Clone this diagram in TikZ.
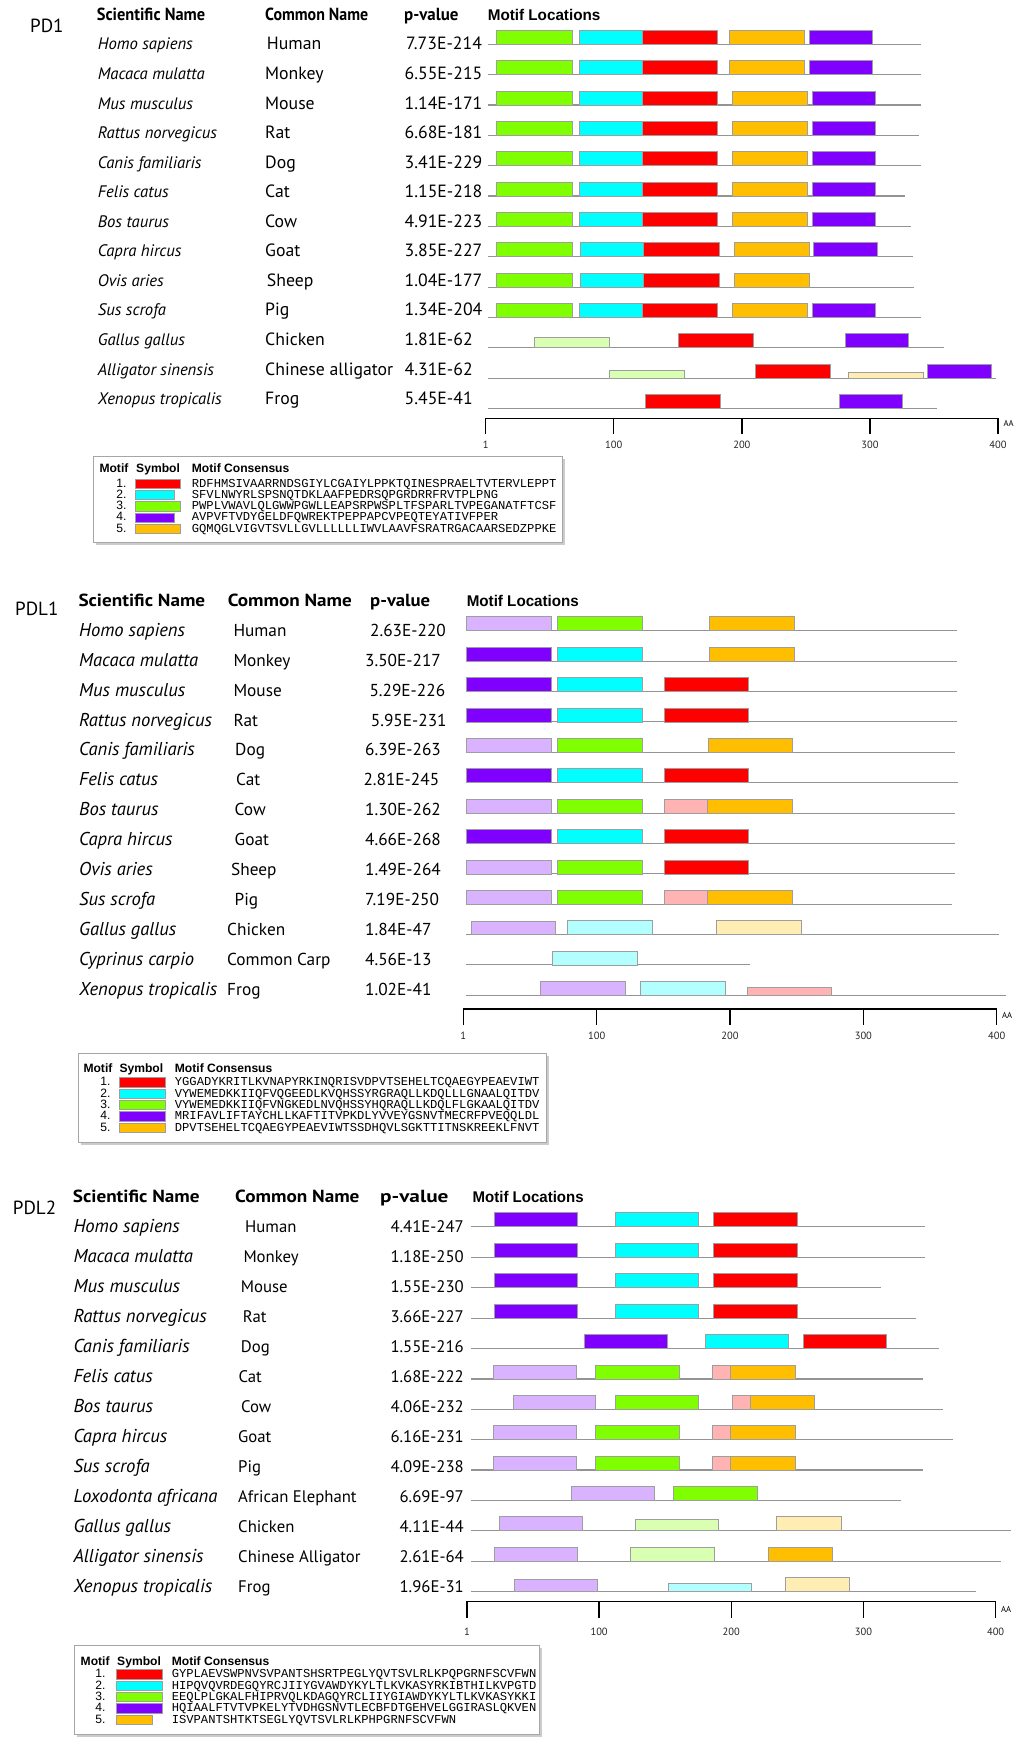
\documentclass[tikz,border=0pt]{standalone}
\usepackage{fontspec}
\usepackage{graphicx}
\setmainfont{PT Sans}
\newfontfamily\arialf{Liberation Sans}
\newfontfamily\monof{Liberation Mono}
\definecolor{mR}{HTML}{FF0000}
\definecolor{mC}{HTML}{00FFFF}
\definecolor{mG}{HTML}{80FF00}
\definecolor{mP}{HTML}{8000FF}
\definecolor{mO}{HTML}{FFBF00}
\definecolor{lP}{HTML}{D9B3FF}
\definecolor{lC}{HTML}{B3FFFF}
\definecolor{lG}{HTML}{D9FFB3}
\definecolor{lY}{HTML}{FFEDB3}
\definecolor{pK}{HTML}{FFB3B3}
\newlength\tmpw
\newcommand\calib[4]{\setbox0=\hbox{\normalfont\fontsize{10pt}{12pt}\selectfont#2#3}\tmpw=\wd0\relax\pgfmathsetmacro#1{10*#4/\tmpw}}
\newcommand\seqline[3]{\def\ly{#1}\draw[rl] (#2,#1) -- (#3,#1);}
\newcommand\motifbar[4]{\draw[bx,fill=#3] (#1,\ly-#4) rectangle (#2,\ly);}
\newcommand\txtrow[5]{%
  \node[tx,font=\scif] (s#5) at (\xSci,\tb+#1*\tp) {#2};
  \node[tx,font=\txf] (c#5) at (\xCom,\tb+#1*\tp) {#3};
  \node[tx,pstyle,font=\txf] (p#5) at (\xPv,\tb+#1*\tp) {#4};}
\newcommand\drawaxis[5]{%
  \draw[axl] (#2,#1+16) -- (#2,#1) -- (#3,#1) -- (#3,#1+16);
  \foreach \k/\lab in {0/1,1/100,2/200,3/300,4/400}{%
    \draw[axl] ({#2+\k*(#3-#2)/4},#1) -- ({#2+\k*(#3-#2)/4},#1+16);
    \node[tl] (t#5\k) at ({#2+\k*(#3-#2)/4},#4) {\lab};}}
\newcommand\legbox[4]{\fill[black!20] (#1+2.5,#2+2.5) rectangle (#3+2.5,#4+2.5);
  \draw[lgb] (#1,#2) rectangle (#3,#4);}
\newcommand\legrow[9]{%
  \node[tx,anchor=base east,font=\lnf] (ln#9) at (#1,#5) {#7.};
  \draw[bx,fill=#6] (#2,#5-8) rectangle (#3,#5+1.3);
  \node[tx,font=\sqf] (lq#9) at (#4,#5) {#8};}
\begin{document}
\calib\sciA{\itshape}{Rattus norvegicus}{119}%
\calib\txA{}{7.73E-214}{75.7}%
\calib\sciB{\itshape}{Rattus norvegicus}{132.7}%
\calib\txB{}{6.39E-263}{75.7}%
\calib\sciC{\itshape}{Rattus norvegicus}{133.3}%
\calib\txC{}{1.68E-222}{73.3}%
\begin{tikzpicture}[x=1pt,y=-1pt,
  bx/.style={draw=black!38,line width=0.7pt},
  rl/.style={draw=black!42,line width=1.1pt},
  axl/.style={draw=black,line width=1.3pt,line join=miter},
  tx/.style={inner sep=0pt,anchor=base west},
  tl/.style={inner sep=0pt,anchor=base,font=\fontsize{10.5}{12}\selectfont,text=black!85},
  lgb/.style={fill=white,draw=black!35,line width=0.9pt},
  pstyle/.style={anchor=base west}]
\def\hdf{\fontsize{17.5}{20}\selectfont\bfseries}
\def\mlf{\fontsize{15.5}{18}\selectfont\arialf\bfseries}
\def\pnf{\fontsize{19}{22}\selectfont}
\def\aaf{\fontsize{8.6}{10}\selectfont}
\def\lhf{\fontsize{12.1}{14}\selectfont\arialf\bfseries}
\def\lnf{\fontsize{12.1}{14}\selectfont\arialf}
\def\sqf{\fontsize{12.15}{14}\selectfont\monof}
\fill[white] (0,0) rectangle (1020,1742);
\useasboundingbox (0,0) rectangle (1020,1742);

% ================= PD1 =================
\node[tx,font=\pnf] (lab1) at (30,32.7) {PD1};
\node[tx,font=\hdf] (hA1) at (96.7,20.7) {\resizebox{108.3pt}{\height}{Scientific Name}};
\node[tx,font=\hdf] (hA2) at (265,20.7) {\resizebox{103pt}{\height}{Common Name}};
\node[tx,font=\hdf] (hA3) at (404,20.7) {\resizebox{54.3pt}{\height}{p-value}};
\node[tx,font=\mlf] (hA4) at (487.6,20.7) {\resizebox{112.6pt}{\height}{Motif Locations}};
\def\xSci{97.7}\def\xCom{266.7}\def\xPv{406}\def\tb{50}\def\tp{29.55}
\def\scif{\fontsize{\sciA}{\sciA}\selectfont\itshape}
\def\txf{\fontsize{\txA}{\txA}\selectfont}
\txtrow{0}{Homo sapiens}{Human}{7.73E-214}{A1}
\def\xCom{265}\def\xPv{404.5}
\txtrow{1}{Macaca mulatta}{Monkey}{6.55E-215}{A2}
\txtrow{2}{Mus musculus}{Mouse}{1.14E-171}{A3}
\txtrow{3}{Rattus norvegicus}{Rat}{6.68E-181}{A4}
\txtrow{4}{Canis familiaris}{Dog}{3.41E-229}{A5}
\txtrow{5}{Felis catus}{Cat}{1.15E-218}{A6}
\txtrow{6}{Bos taurus}{Cow}{4.91E-223}{A7}
\txtrow{7}{Capra hircus}{Goat}{3.85E-227}{A8}
\def\xCom{266.7}
\txtrow{8}{Ovis aries}{Sheep}{1.04E-177}{A9}
\def\xCom{265}
\txtrow{9}{Sus scrofa}{Pig}{1.34E-204}{A10}
\txtrow{10}{Gallus gallus}{Chicken}{1.81E-62}{A11}
\txtrow{11}{Alligator sinensis}{Chinese alligator}{4.31E-62}{A12}
\txtrow{12}{Xenopus tropicalis}{Frog}{5.45E-41}{A13}
\begin{scope}[xshift=470pt,xscale=1.0523,xshift=-470pt]
\seqline{44.3}{486.7}{898.3}
\motifbar{495}{567}{mG}{14}\motifbar{574}{633.3}{mC}{14}\motifbar{633.3}{705}{mR}{14}\motifbar{716.7}{787.7}{mO}{14}\motifbar{792.3}{852}{mP}{14}
\seqline{74.6}{486.7}{898.3}
\motifbar{495}{567}{mG}{14}\motifbar{574}{633.3}{mC}{14}\motifbar{633.3}{705}{mR}{14}\motifbar{716.7}{787.7}{mO}{14}\motifbar{792.3}{852}{mP}{14}
\seqline{105}{486.7}{898.3}
\motifbar{495}{567}{mG}{14}\motifbar{574}{633.3}{mC}{14}\motifbar{633.3}{705}{mR}{14}\motifbar{719.7}{790.7}{mO}{14}\motifbar{795}{855.3}{mP}{14}
\seqline{135.3}{486.7}{896.7}
\motifbar{495}{567}{mG}{14}\motifbar{574}{633.3}{mC}{14}\motifbar{633.3}{705}{mR}{14}\motifbar{719.7}{790.7}{mO}{14}\motifbar{795}{855.3}{mP}{14}
\seqline{165.7}{486.7}{898.3}
\motifbar{495}{567}{mG}{14}\motifbar{574}{633.3}{mC}{14}\motifbar{633.3}{705}{mR}{14}\motifbar{719.7}{790.7}{mO}{14}\motifbar{795}{855.3}{mP}{14}
\seqline{196}{486.7}{883}
\motifbar{495}{567}{mG}{14}\motifbar{574}{633.3}{mC}{14}\motifbar{633.3}{705}{mR}{14}\motifbar{719.7}{790.7}{mO}{14}\motifbar{795}{855.3}{mP}{14}
\seqline{226.4}{486.7}{889.3}
\motifbar{495}{567}{mG}{14}\motifbar{574}{633.3}{mC}{14}\motifbar{633.3}{705}{mR}{14}\motifbar{719.7}{790.7}{mO}{14}\motifbar{795}{855.3}{mP}{14}
\seqline{256.7}{486.7}{890.7}
\motifbar{495}{567}{mG}{14}\motifbar{575}{635}{mC}{14}\motifbar{635}{706.7}{mR}{14}\motifbar{721}{792.3}{mO}{14}\motifbar{796.7}{856.7}{mP}{14}
\seqline{287.1}{486.7}{892.3}
\motifbar{495}{567}{mG}{14}\motifbar{575}{635}{mC}{14}\motifbar{635}{706.7}{mR}{14}\motifbar{721}{792.3}{mO}{14}
\seqline{317.4}{486.7}{898.3}
\motifbar{495}{567}{mG}{14}\motifbar{574}{633.3}{mC}{14}\motifbar{633.3}{705}{mR}{14}\motifbar{719.7}{790.7}{mO}{14}\motifbar{795}{855.3}{mP}{14}
\seqline{347.8}{486.7}{920.7}
\motifbar{530.7}{602.3}{lG}{10}\motifbar{668.3}{739.3}{mR}{14}\motifbar{826.7}{886.7}{mP}{14}
\seqline{378.6}{486.7}{970}
\motifbar{602.3}{674}{lG}{8.7}\motifbar{741}{812.3}{mR}{14}\motifbar{829.3}{900.7}{lY}{6.7}\motifbar{905}{965}{mP}{14}
\seqline{408.8}{486.7}{913.3}
\motifbar{636.7}{708.3}{mR}{14}\motifbar{820.7}{880.7}{mP}{14}
\drawaxis{418.3}{485}{971.7}{448.3}{A}
\end{scope}
\node[tx,font=\aaf] (aaA) at (1003.5,426.7) {AA};

% legend PD1
\legbox{93.3}{456}{562.3}{542.7}
\node[tx,font=\lhf] (lhA1) at (99.3,472.7) {Motif};
\node[tx,font=\lhf] (lhA2) at (136,472.7) {Symbol};
\node[tx,font=\lhf] (lhA3) at (191.7,472.7) {Motif Consensus};
\legrow{126.7}{135}{180.7}{191.7}{487.3}{mR}{1}{RDFHMSIVAARRNDSGIYLCGAIYLPPKTQINESPRAELTVTERVLEPPT}{A1}
\legrow{126.7}{135}{174}{191.7}{498.5}{mC}{2}{SFVLNWYRLSPSNQTDKLAAFPEDRSQPGRDRRFRVTPLPNG}{A2}
\legrow{126.7}{135}{180.7}{191.7}{509.7}{mG}{3}{PWPLVWAVLQLGWWPGWLLEAPSRPWSPLTFSPARLTVPEGANATFTCSF}{A3}
\legrow{126.7}{135}{174}{191.7}{520.9}{mP}{4}{AVPVFTVDYGELDFQWREKTPEPPAPCVPEQTEYATIVFPER}{A4}
\legrow{126.7}{135}{180.7}{191.7}{532.1}{mO}{5}{GQMQGLVIGVTSVLLGVLLLLLLIWVLAAVFSRATRGACAARSEDZPPKE}{A5}

% ================= PDL1 =================
\node[tx,font=\pnf] (lab2) at (15,615.7) {PDL1};
\node[tx,font=\hdf] (hB1) at (78.3,606.7) {\resizebox{126.7pt}{\height}{Scientific Name}};
\node[tx,font=\hdf] (hB2) at (227.7,606.7) {\resizebox{124pt}{\height}{Common Name}};
\node[tx,font=\hdf] (hB3) at (370,606.7) {\resizebox{60pt}{\height}{p-value}};
\node[tx,font=\mlf] (hB4) at (466.6,606.7) {\resizebox{112.1pt}{\height}{Motif Locations}};
\def\xSci{79}\def\tb{636.3}\def\tp{29.9}
\def\scif{\fontsize{\sciB}{\sciB}\selectfont\itshape}
\def\txf{\fontsize{\txB}{\txB}\selectfont}
\def\xCom{233.3}\def\xPv{370}
\txtrow{0}{Homo sapiens}{Human}{2.63E-220}{B1}
\def\xPv{365}
\txtrow{1}{Macaca mulatta}{Monkey}{3.50E-217}{B2}
\def\xPv{369.3}
\txtrow{2}{Mus musculus}{Mouse}{5.29E-226}{B3}
\def\xPv{370.7}
\txtrow{3}{Rattus norvegicus}{Rat}{5.95E-231}{B4}
\def\xCom{235}\def\xPv{365}
\txtrow{4}{Canis familiaris}{Dog}{6.39E-263}{B5}
\def\xCom{236}\def\xPv{363.3}
\txtrow{5}{Felis catus}{Cat}{2.81E-245}{B6}
\def\xCom{234.5}\def\xPv{365}
\txtrow{6}{Bos taurus}{Cow}{1.30E-262}{B7}
\txtrow{7}{Capra hircus}{Goat}{4.66E-268}{B8}
\def\xCom{231}
\txtrow{8}{Ovis aries}{Sheep}{1.49E-264}{B9}
\def\xCom{234.5}
\txtrow{9}{Sus scrofa}{Pig}{7.19E-250}{B10}
\def\xCom{227}
\txtrow{10}{Gallus gallus}{Chicken}{1.84E-47}{B11}
\txtrow{11}{Cyprinus carpio}{Common Carp}{4.56E-13}{B12}
\txtrow{12}{Xenopus tropicalis}{Frog}{1.02E-41}{B13}
\begin{scope}[xshift=440pt,xscale=1.1097,xshift=-440pt]
\seqline{630.7}{463.3}{905.7}
\motifbar{463.3}{540}{lP}{14}\motifbar{546}{622}{mG}{14}\motifbar{683}{759}{mO}{14}
\seqline{661.1}{463.3}{905.7}
\motifbar{463.3}{540}{mP}{14}\motifbar{546}{622}{mC}{14}\motifbar{683}{759}{mO}{14}
\seqline{691.5}{463.3}{905.7}
\motifbar{463.3}{540}{mP}{14}\motifbar{546}{622}{mC}{14}\motifbar{642}{718.3}{mR}{14}
\seqline{721.9}{463.3}{905.7}
\motifbar{463.3}{540}{mP}{14}\motifbar{546}{622}{mC}{14}\motifbar{642}{718.3}{mR}{14}
\seqline{752.3}{463.3}{904}
\motifbar{463.3}{540}{lP}{14}\motifbar{546}{622}{mG}{14}\motifbar{681.7}{757.7}{mO}{14}
\seqline{782.7}{463.3}{906.7}
\motifbar{463.3}{540}{mP}{14}\motifbar{546}{622}{mC}{14}\motifbar{642}{718.3}{mR}{14}
\seqline{813.1}{463.3}{904}
\motifbar{463.3}{540}{lP}{14}\motifbar{546}{622}{mG}{14}\motifbar{642}{681.3}{pK}{14}\motifbar{681.3}{757.7}{mO}{14}
\seqline{843.5}{463.3}{904}
\motifbar{463.3}{540}{mP}{14}\motifbar{546}{622}{mC}{14}\motifbar{642}{718.3}{mR}{14}
\seqline{873.9}{463.3}{904}
\motifbar{463.3}{540}{lP}{14}\motifbar{546}{622}{mG}{14}\motifbar{642}{718.3}{mR}{14}
\seqline{904.3}{463.3}{901}
\motifbar{463.3}{540}{lP}{14}\motifbar{546}{622}{mG}{14}\motifbar{642}{681.3}{pK}{14}\motifbar{681.3}{757.7}{mO}{14}
\seqline{934.5}{463.3}{943.3}
\motifbar{468.3}{544.3}{lP}{13.6}\motifbar{555}{631.3}{lC}{14}\motifbar{689.3}{765.7}{lY}{14}
\seqline{964.9}{463.3}{719.3}
\motifbar{541.3}{617.7}{lC}{13.4}
\seqline{995.3}{463.3}{950}
\motifbar{530.7}{606.7}{lP}{13.6}\motifbar{620.7}{696.7}{lC}{13.6}\motifbar{716.7}{792.7}{pK}{8}
\drawaxis{1009}{461}{941.7}{1039}{B}
\end{scope}
\node[tx,font=\aaf] (aaB) at (1002,1018.3) {AA};

% legend PDL1
\legbox{78.7}{1053}{546.6}{1142.3}
\node[tx,font=\lhf] (lhB1) at (83.3,1072.3) {Motif};
\node[tx,font=\lhf] (lhB2) at (119.3,1072.3) {Symbol};
\node[tx,font=\lhf] (lhB3) at (174.7,1072.3) {Motif Consensus};
\legrow{110.7}{119.3}{165.3}{174.7}{1085.7}{mR}{1}{YGGADYKRITLKVNAPYRKINQRISVDPVTSEHELTCQAEGYPEAEVIWT}{B1}
\legrow{110.7}{119.3}{165.3}{174.7}{1097}{mC}{2}{VYWEMEDKKIIQFVQGEEDLKVQHSSYRGRAQLLKDQLLLGNAALQITDV}{B2}
\legrow{110.7}{119.3}{165.3}{174.7}{1108.3}{mG}{3}{VYWEMEDKKIIQFVNGKEDLNVQHSSYHQRAQLLKDQLFLGKAALQITDV}{B3}
\legrow{110.7}{119.3}{165.3}{174.7}{1119.7}{mP}{4}{MRIFAVLIFTAYCHLLKAFTITVPKDLYVVEYGSNVTMECRFPVEQQLDL}{B4}
\legrow{110.7}{119.3}{165.3}{174.7}{1131}{mO}{5}{DPVTSEHELTCQAEGYPEAEVIWTSSDHQVLSGKTTITNSKREEKLFNVT}{B5}

% ================= PDL2 =================
\node[tx,font=\pnf] (lab3) at (12.7,1214) {PDL2};
\node[tx,font=\hdf] (hC1) at (72.7,1202.3) {\resizebox{126.7pt}{\height}{Scientific Name}};
\node[tx,font=\hdf] (hC2) at (235,1202.3) {\resizebox{124.3pt}{\height}{Common Name}};
\node[tx,font=\hdf] (hC3) at (380,1202.3) {\resizebox{68.3pt}{\height}{p-value}};
\node[tx,font=\mlf] (hC4) at (472.5,1202.7) {\resizebox{111pt}{\height}{Motif Locations}};
\def\xSci{73.3}\def\xPv{464}\def\tb{1232.3}\def\tp{30}
\tikzset{pstyle/.style={anchor=base east}}
\def\scif{\fontsize{\sciC}{\sciC}\selectfont\itshape}
\def\txf{\fontsize{\txC}{\txC}\selectfont}
\def\xCom{245}
\txtrow{0}{Homo sapiens}{Human}{4.41E-247}{C1}
\def\xCom{243.3}
\txtrow{1}{Macaca mulatta}{Monkey}{1.18E-250}{C2}
\def\xCom{240.7}
\txtrow{2}{Mus musculus}{Mouse}{1.55E-230}{C3}
\def\xCom{242.7}
\txtrow{3}{Rattus norvegicus}{Rat}{3.66E-227}{C4}
\def\xCom{240.7}
\txtrow{4}{Canis familiaris}{Dog}{1.55E-216}{C5}
\def\xCom{238.3}
\txtrow{5}{Felis catus}{Cat}{1.68E-222}{C6}
\def\xCom{241}
\txtrow{6}{Bos taurus}{Cow}{4.06E-232}{C7}
\def\xCom{238}
\txtrow{7}{Capra hircus}{Goat}{6.16E-231}{C8}
\txtrow{8}{Sus scrofa}{Pig}{4.09E-238}{C9}
\txtrow{9}{Loxodonta africana}{African Elephant}{6.69E-97}{C10}
\txtrow{10}{Gallus gallus}{Chicken}{4.11E-44}{C11}
\txtrow{11}{Alligator sinensis}{Chinese Alligator}{2.61E-64}{C12}
\txtrow{12}{Xenopus tropicalis}{Frog}{1.96E-31}{C13}
\begin{scope}[xshift=440pt,xscale=1.1097,xshift=-440pt]
\seqline{1226.7}{468.3}{876.7}
\motifbar{489.3}{564}{mP}{14}\motifbar{598.3}{673}{mC}{14}\motifbar{686.7}{761.7}{mR}{14}
\seqline{1257.2}{468.3}{876.7}
\motifbar{489.3}{564}{mP}{14}\motifbar{598.3}{673}{mC}{14}\motifbar{686.7}{761.7}{mR}{14}
\seqline{1287.6}{468.3}{837.7}
\motifbar{489.3}{564}{mP}{14}\motifbar{598.3}{673}{mC}{14}\motifbar{686.7}{761.7}{mR}{14}
\seqline{1318.1}{468.3}{869}
\motifbar{489.3}{564}{mP}{14}\motifbar{598.3}{673}{mC}{14}\motifbar{686.7}{761.7}{mR}{14}
\seqline{1348.6}{468.3}{890}
\motifbar{570}{644.7}{mP}{14}\motifbar{679}{754.3}{mC}{14}\motifbar{767.3}{842.3}{mR}{14}
\seqline{1379}{468.3}{875}
\motifbar{487.7}{562.7}{lP}{14}\motifbar{580.3}{655.3}{mG}{14}\motifbar{685.3}{701.7}{pK}{14}\motifbar{701.7}{760}{mO}{14}
\seqline{1409.4}{468.3}{893.3}
\motifbar{506}{580.3}{lP}{14}\motifbar{598.3}{673}{mG}{14}\motifbar{703.3}{719.7}{pK}{14}\motifbar{719.7}{777.7}{mO}{14}
\seqline{1439.6}{468.3}{902.3}
\motifbar{487.7}{562.7}{lP}{14}\motifbar{580.3}{655.3}{mG}{14}\motifbar{685.3}{701.7}{pK}{14}\motifbar{701.7}{760}{mO}{14}
\seqline{1470}{468.3}{875}
\motifbar{487.7}{562.7}{lP}{14}\motifbar{580.3}{655.3}{mG}{14}\motifbar{685.3}{701.7}{pK}{14}\motifbar{701.7}{760}{mO}{14}
\seqline{1500.4}{468.3}{855.7}
\motifbar{558.3}{633}{lP}{14}\motifbar{650.7}{725.7}{mG}{14}
\seqline{1530.8}{468.3}{954.3}
\motifbar{493.7}{568.7}{lP}{14}\motifbar{616}{691}{lG}{11}\motifbar{743.3}{801.7}{lY}{14}
\seqline{1561.2}{468.3}{945.7}
\motifbar{489.3}{564}{lP}{14}\motifbar{611.7}{687}{lG}{14}\motifbar{736}{794}{mO}{14}
\seqline{1591.6}{468.3}{922.7}
\motifbar{507}{582}{lP}{12}\motifbar{646}{721}{lC}{8}\motifbar{751}{809.3}{lY}{14}
\drawaxis{1601.7}{464.3}{940.7}{1635}{C}
\end{scope}
\node[tx,font=\aaf] (aaC) at (1001,1612.7) {AA};

% legend PDL2
\legbox{74.5}{1645}{539.2}{1734}
\node[tx,font=\lhf] (lhC1) at (80.5,1665) {Motif};
\node[tx,font=\lhf] (lhC2) at (117,1665) {Symbol};
\node[tx,font=\lhf] (lhC3) at (171.6,1665) {Motif Consensus};
\legrow{105.7}{115.9}{162.2}{171.6}{1677.7}{mR}{1}{GYPLAEVSWPNVSVPANTSHSRTPEGLYQVTSVLRLKPQPGRNFSCVFWN}{C1}
\legrow{105.7}{115.9}{162.2}{171.6}{1689}{mC}{2}{HIPQVQVRDEGQYRCJIIYGVAWDYKYLTLKVKASYRKIBTHILKVPGTD}{C2}
\legrow{105.7}{115.9}{162.2}{171.6}{1700.3}{mG}{3}{EEQLPLGKALFHIPRVQLKDAGQYRCLIIYGIAWDYKYLTLKVKASYKKI}{C3}
\legrow{105.7}{115.9}{162.2}{171.6}{1711.7}{mP}{4}{HQIAALFTVTVPKELYTVDHGSNVTLECBFDTGEHVELGGIRASLQKVEN}{C4}
\legrow{105.7}{115.9}{152}{171.6}{1723}{mO}{5}{ISVPANTSHTKTSEGLYQVTSVLRLKPHPGRNFSCVFWN}{C5}
\end{tikzpicture}
\end{document}
